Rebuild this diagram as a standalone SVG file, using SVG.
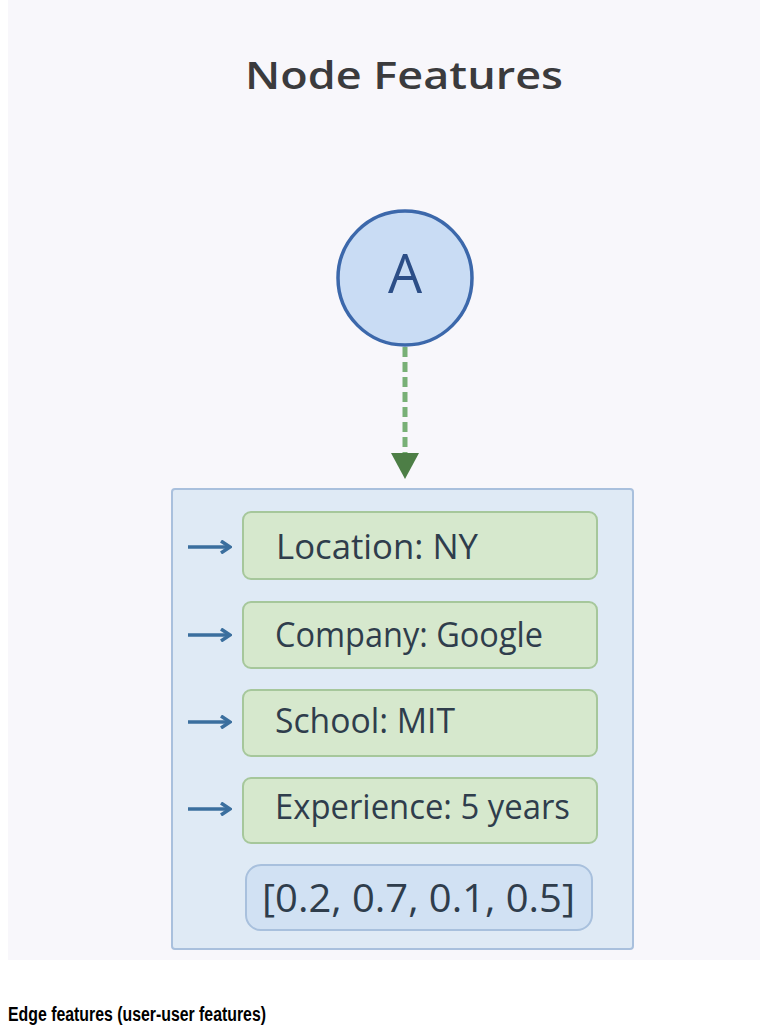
<svg xmlns="http://www.w3.org/2000/svg" width="767" height="1035" viewBox="0 0 767 1035">
<style>
.feat{fill:#d6e8cd;stroke:#a6c79b;stroke-width:2}
.ft{font-family:"Open Sans",sans-serif;font-size:34px;fill:#2f3d4c}
.arr{stroke:#3b6f9e;stroke-width:3.5;fill:none}
</style>
<defs>
<marker id="ah" markerWidth="12" markerHeight="14" refX="9" refY="7" orient="auto" markerUnits="userSpaceOnUse">
<path d="M1,1 L10,7 L1,13" fill="none" stroke="#3b6f9e" stroke-width="3.5"/>
</marker>
</defs>
<rect x="0" y="0" width="767" height="1035" fill="#ffffff"/>
<rect x="8" y="0" width="752" height="960" fill="#f8f7fb"/>
<text x="245" y="89" textLength="318" lengthAdjust="spacingAndGlyphs" font-family="Open Sans, sans-serif" font-size="37" font-weight="600" fill="#3b3b3d">Node Features</text>
<g id="connectors">
<line x1="405" y1="347" x2="405" y2="454" stroke="#78b076" stroke-width="5" stroke-dasharray="10,5"/>
<polygon points="391,453 419,453 405,479" fill="#4d7e46"/>
</g>
<g id="nodeA">
<circle cx="405" cy="278" r="67" fill="#c9dcf4" stroke="#3c68ab" stroke-width="3.5"/>
<text x="405" y="293" text-anchor="middle" font-family="Open Sans, sans-serif" font-size="54" fill="#2c4e87">A</text>
</g>
<g id="featureBox">
<rect x="172" y="489" width="461" height="460" rx="3" fill="#dfeaf5" stroke="#a9c0dd" stroke-width="2"/>
</g>
<g id="location">
<line class="arr" x1="188" y1="547" x2="229" y2="547" marker-end="url(#ah)"/>
<rect class="feat" x="243" y="512" width="354" height="67" rx="8"/>
<text class="ft" x="276" y="559" textLength="202" lengthAdjust="spacingAndGlyphs">Location: NY</text>
</g>
<g id="company">
<line class="arr" x1="188" y1="635" x2="229" y2="635" marker-end="url(#ah)"/>
<rect class="feat" x="243" y="602" width="354" height="66" rx="8"/>
<text class="ft" x="275" y="647" textLength="268" lengthAdjust="spacingAndGlyphs">Company: Google</text>
</g>
<g id="school">
<line class="arr" x1="188" y1="722" x2="229" y2="722" marker-end="url(#ah)"/>
<rect class="feat" x="243" y="690" width="354" height="66" rx="8"/>
<text class="ft" x="275" y="733" textLength="180" lengthAdjust="spacingAndGlyphs">School: MIT</text>
</g>
<g id="experience">
<line class="arr" x1="188" y1="809" x2="229" y2="809" marker-end="url(#ah)"/>
<rect class="feat" x="243" y="778" width="354" height="65" rx="8"/>
<text class="ft" x="275" y="819" textLength="295" lengthAdjust="spacingAndGlyphs">Experience: 5 years</text>
</g>
<g id="vector">
<rect x="246" y="865" width="346" height="65" rx="15" fill="#d1e1f3" stroke="#a8c0dd" stroke-width="2"/>
<text x="262" y="912" textLength="313" lengthAdjust="spacingAndGlyphs" font-family="Open Sans, sans-serif" font-size="38" fill="#2f3d4c">[0.2, 0.7, 0.1, 0.5]</text>
</g>
<text x="8" y="1021" textLength="258" lengthAdjust="spacingAndGlyphs" font-family="Liberation Sans, Arial, sans-serif" font-size="20" font-weight="bold" fill="#000">Edge features (user-user features)</text>
</svg>
